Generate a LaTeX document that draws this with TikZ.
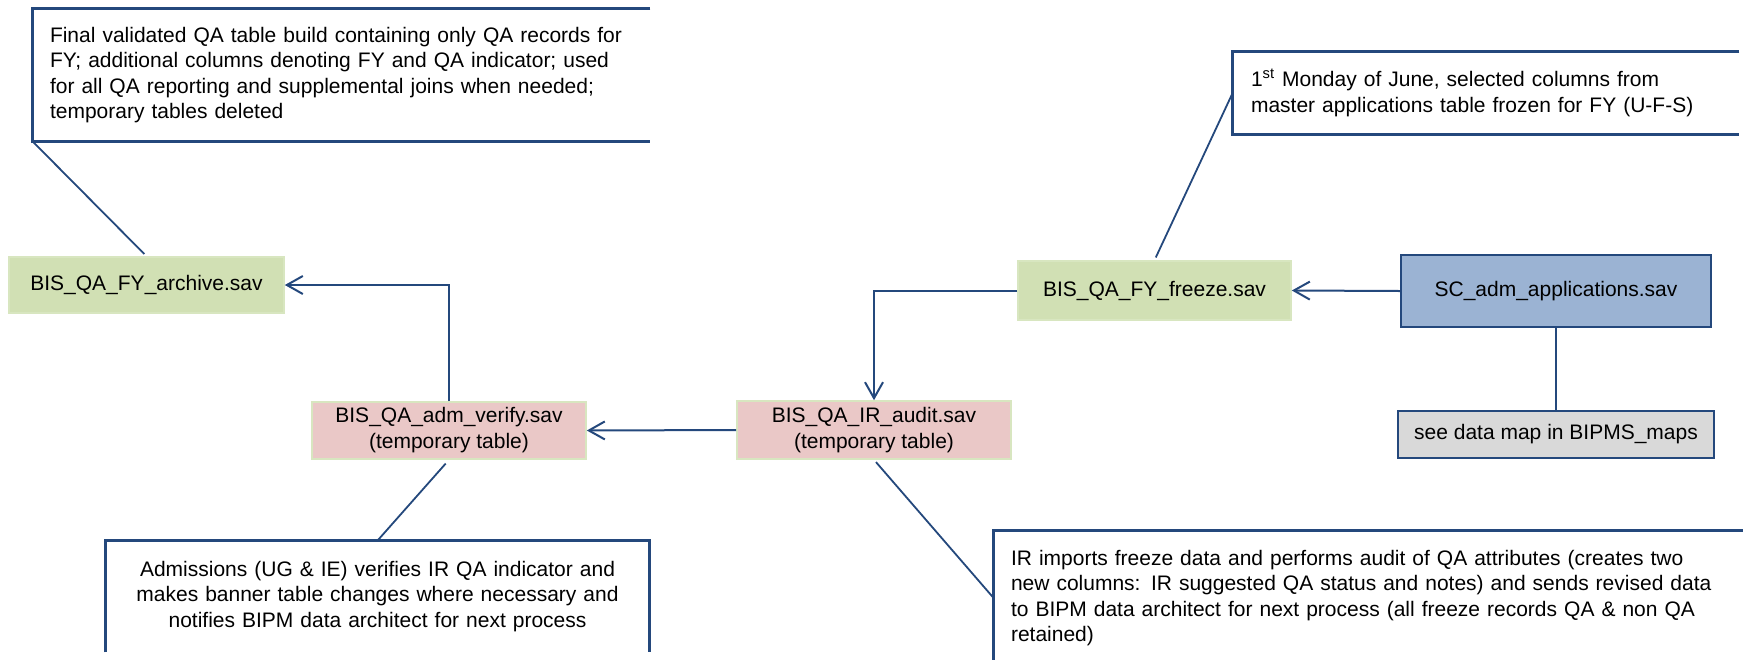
\documentclass[tikz,border=0pt]{standalone}
\usepackage{fontspec}
\setmainfont{Liberation Sans}
\usetikzlibrary{arrows.meta}
\definecolor{lineblue}{RGB}{36,72,124}
\definecolor{boxgreen}{RGB}{209,224,180}
\definecolor{edgegreen}{RGB}{216,230,192}
\definecolor{boxpink}{RGB}{234,200,199}
\definecolor{boxblue}{RGB}{155,179,211}
\definecolor{boxgray}{RGB}{217,217,217}
\tikzset{
  table/.style={inner sep=0pt,align=center,font=\fontsize{10.5}{13}\selectfont},
  savgreen/.style={table,fill=boxgreen,draw=edgegreen,line width=0.8pt},
  savpink/.style={table,fill=boxpink,draw=edgegreen,line width=0.8pt},
  savblue/.style={table,fill=boxblue,draw=lineblue,line width=1.2pt},
  savgray/.style={table,fill=boxgray,draw=lineblue,line width=1.2pt},
  note/.style={inner ysep=0pt,font=\fontsize{10.5}{12.7}\selectfont},
  noteline/.style={lineblue,line width=1.2pt},
  flow/.style={lineblue,line width=1pt,-{Straight Barb[length=8pt,width=9pt]}},
  link/.style={lineblue,line width=0.9pt}
}
\begin{document}
\begin{tikzpicture}[x=0.5pt,y=-0.5pt]
\useasboundingbox (0,0) rectangle (1743,659);
%tables
\node[savgreen,minimum width=137.5pt,minimum height=28pt] (archive) at (146.5,285) {BIS\_QA\_FY\_archive.sav};
\node[savpink,minimum width=137pt,minimum height=28.5pt] (verify) at (449,430.5) {BIS\_QA\_adm\_verify.sav\\(temporary table)};
\node[savpink,minimum width=137pt,minimum height=29pt] (audit) at (874,430) {BIS\_QA\_IR\_audit.sav\\(temporary table)};
\node[savgreen,minimum width=136.5pt,minimum height=29.5pt] (freeze) at (1154.5,290.5) {BIS\_QA\_FY\_freeze.sav};
\node[savblue,minimum width=155pt,minimum height=36pt] (sc) at (1556,291) {SC\_adm\_applications.sav};
\node[savgray,minimum width=158pt,minimum height=23.5pt] (dmap) at (1556,434.5) {see data map in BIPMS\_maps};

%notes
\node[note,inner xsep=8.5pt,text width=291.5pt,align=left,minimum height=66pt] (capArchive) at (341.5,75)
  {Final validated QA table build containing only QA records for\\FY; additional columns denoting FY and QA indicator; used\\for all QA reporting and supplemental joins when needed;\\temporary tables deleted};
\node[note,inner xsep=9pt,text width=235pt,align=left,minimum height=41pt] (capFreeze) at (1486,93)
  {1\textsuperscript{st} Monday of June, selected columns from\\master applications table frozen for FY (U-F-S)};
\node[note,inner xsep=0pt,text width=271.5pt,align=center,minimum height=55.5pt] (capVerify) at (377.5,596.5)
  {Admissions (UG \& IE) verifies IR QA indicator and\\makes banner table changes where necessary and\\notifies BIPM data architect for next process};
\node[note,inner xsep=8.5pt,text width=361pt,align=left,minimum height=67pt] (capAudit) at (1372,598)
  {IR imports freeze data and performs audit of QA attributes (creates two\\new columns: IR suggested QA status and notes) and sends revised data\\to BIPM data architect for next process (all freeze records QA \& non QA\\retained)};
\draw[noteline] (capArchive.north east) -- (capArchive.north west) -- (capArchive.south west) -- (capArchive.south east);
\draw[noteline] (capFreeze.north east) -- (capFreeze.north west) -- (capFreeze.south west) -- (capFreeze.south east);
\draw[noteline] (capVerify.south west) -- (capVerify.north west) -- (capVerify.north east) -- (capVerify.south east);
\draw[noteline] (capAudit.south west) -- (capAudit.north west) -- (capAudit.north east);

%arrows
\draw[flow] (verify.north) |- (archive.east);
\draw[flow] (audit.west) -- (verify.east);
\draw[flow] (freeze.west) -| (audit.north);
\draw[flow] (sc.west) -- (freeze.east);
\draw[link] (sc.south) -- (dmap.north);

%callout lines
\draw[link,shorten >=1.5pt] (capArchive.south west) -- (archive.north);
\draw[link,shorten >=1.5pt] (capFreeze.west) -- (freeze.north);
\draw[link,shorten <=2.5pt] (verify.south) -- (capVerify.north);
\draw[link,shorten <=1.5pt] (audit.south) -- (capAudit.west);
\end{tikzpicture}
\end{document}
